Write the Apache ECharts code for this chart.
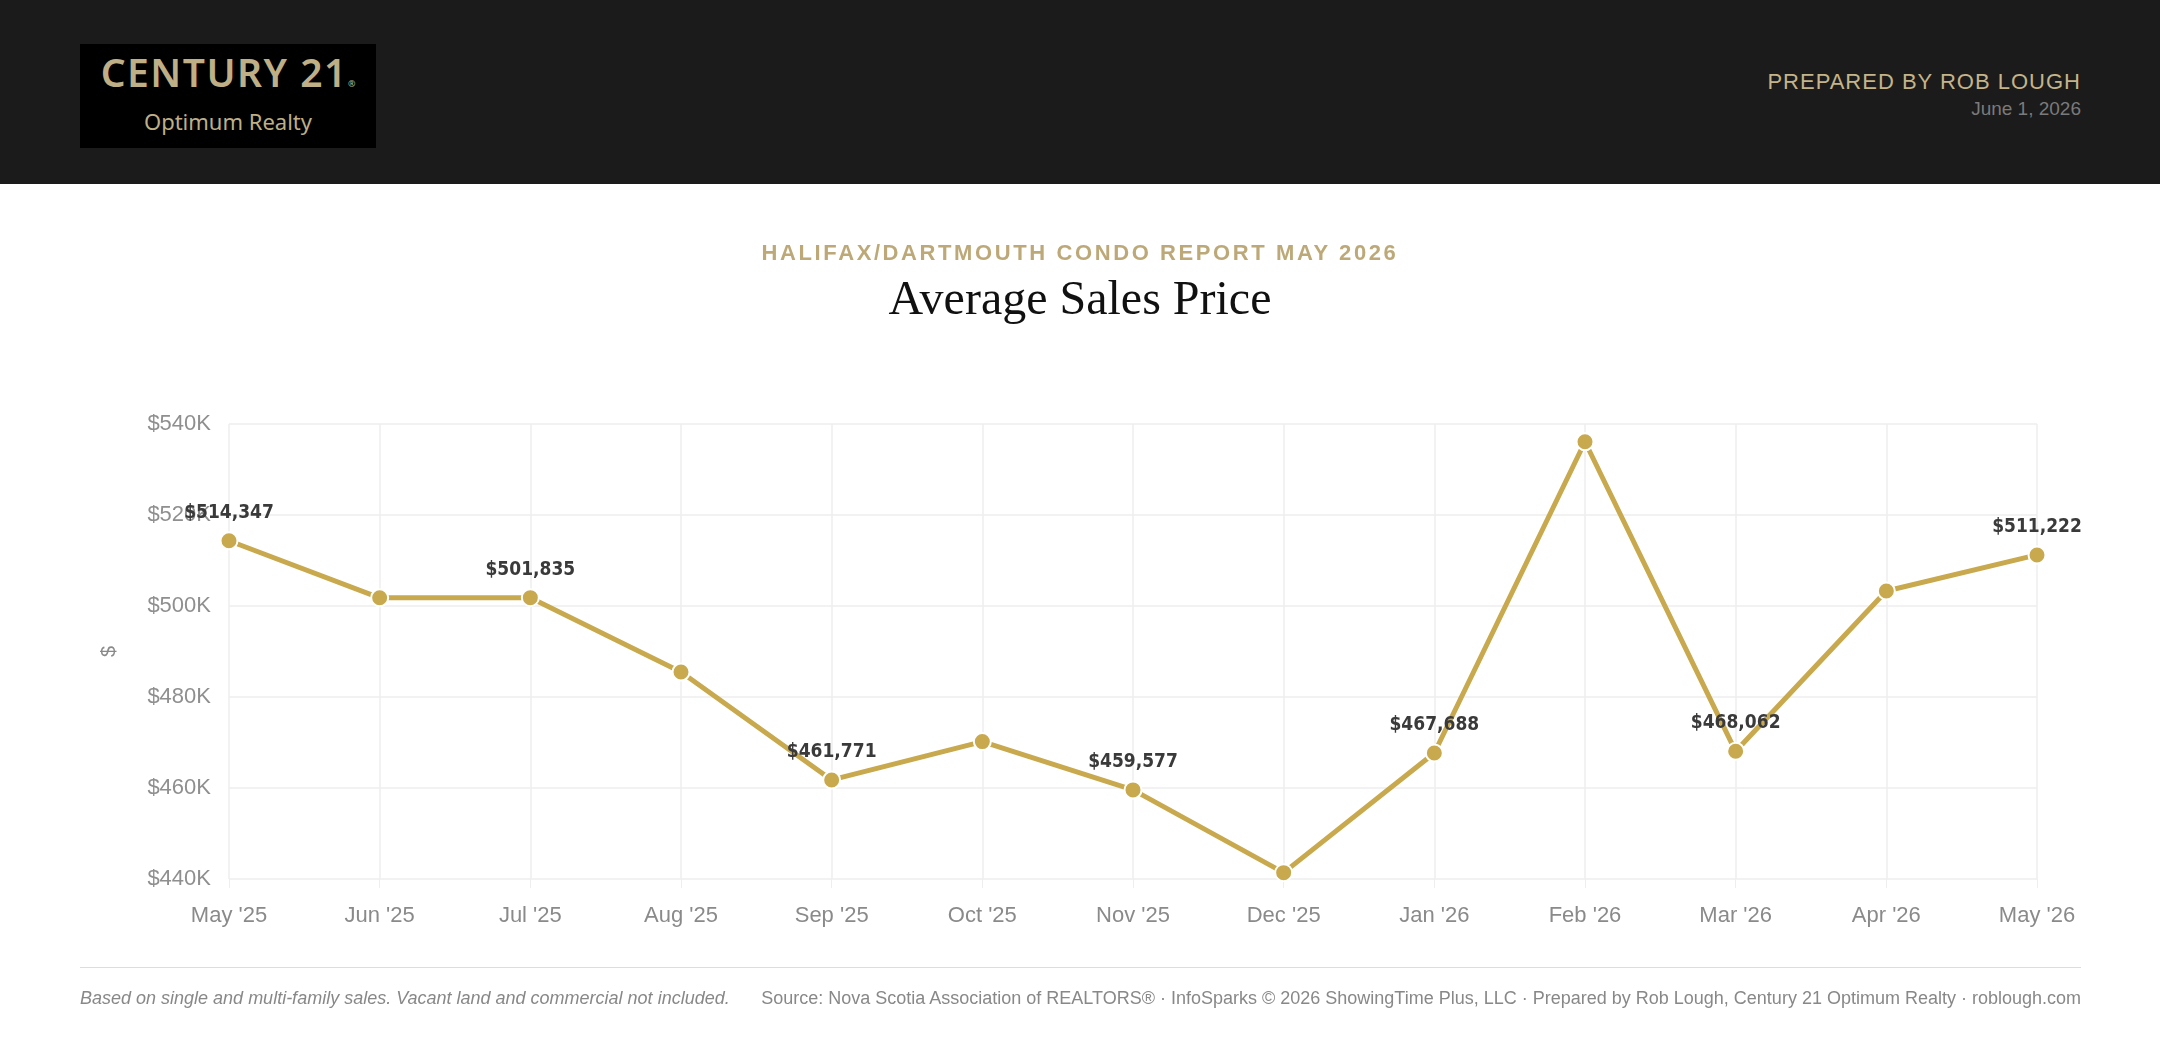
<!DOCTYPE html>
<html>
<head>
<meta charset="utf-8">
<script src="https://cdn.jsdelivr.net/npm/echarts@6/dist/echarts.min.js"></script>
<style>
  body { margin: 0; width: 2160px; height: 1048px; background: #fff; font-family: "Liberation Sans", Arial, sans-serif; overflow: hidden; position: relative; }
  #header { position: absolute; left: 0; top: 0; width: 2160px; height: 184px; background: #1b1b1b; }
  #logo { position: absolute; left: 80px; top: 44px; width: 296px; height: 104px; background: #000; color: #beaf87; text-align: center; }
  #logo .c21 { font-family: "Noto Sans", sans-serif; font-weight: 600; font-size: 39px; letter-spacing: 1.5px; margin-top: 4px; line-height: 48px; }
  #logo .c21 sup { font-size: 9px; vertical-align: 0; letter-spacing: 0; }
  #logo .opt { font-family: "Noto Sans", sans-serif; font-size: 22px; line-height: 26px; margin-top: 0px; }
  #prep { position: absolute; right: 79px; top: 69px; text-align: right; font-family: "Liberation Sans", Arial, sans-serif; }
  #prep .a { color: #c4b48a; font-size: 22px; letter-spacing: 1px; }
  #prep .b { color: #7a7a7a; font-size: 19px; margin-top: 3px; }
  #sub { position: absolute; top: 240px; width: 100%; text-align: center; color: #bda978; font-weight: 700; font-size: 22px; letter-spacing: 2.6px; }
  #ttl { position: absolute; top: 270px; width: 100%; text-align: center; color: #111; font-family: "Liberation Serif", serif; font-size: 48px; }
  #chart { position: absolute; left: 0; top: 0; width: 2160px; height: 1048px; }
  #rule { position: absolute; left: 80px; top: 967px; width: 2001px; height: 1px; background: #ddd; }
  #foot { position: absolute; left: 80px; top: 988px; width: 2001px; font-size: 18px; color: #888; }
  #foot .l { float: left; font-style: italic; }
  #foot .r { float: right; }
</style>
</head>
<body>
<div id="chart"></div>
<div id="header">
  <div id="logo"><div class="c21">CENTURY 21<sup>®</sup></div><div class="opt">Optimum Realty</div></div>
  <div id="prep"><div class="a">PREPARED BY ROB LOUGH</div><div class="b">June 1, 2026</div></div>
</div>
<div id="sub">HALIFAX/DARTMOUTH CONDO REPORT MAY 2026</div>
<div id="ttl">Average Sales Price</div>
<div id="rule"></div>
<div id="foot">
  <span class="l">Based on single and multi-family sales. Vacant land and commercial not included.</span>
  <span class="r">Source: Nova Scotia Association of REALTORS® · InfoSparks © 2026 ShowingTime Plus, LLC · Prepared by Rob Lough, Century 21 Optimum Realty · roblough.com</span>
</div>
<script>
var months = ["May '25", "Jun '25", "Jul '25", "Aug '25", "Sep '25", "Oct '25", "Nov '25", "Dec '25", "Jan '26", "Feb '26", "Mar '26", "Apr '26", "May '26"];
var avgPrice = [514347, 501800, 501835, 485500, 461771, 470200, 459577, 441400, 467688, 536100, 468062, 503300, 511222];
var labelled = [0, 2, 4, 6, 8, 10, 12];

var chart = echarts.init(document.getElementById('chart'));

chart.setOption({
  animation: false,
  grid: { left: 229, right: 123, top: 424, bottom: 169 },
  xAxis: {
    type: 'category',
    data: months,
    boundaryGap: false,
    axisLine: { show: false },
    axisTick: { show: true, length: 9, lineStyle: { color: '#eeeeee' } },
    axisLabel: { color: '#8a8a8a', fontSize: 22, margin: 26, fontFamily: 'Liberation Sans' },
    splitLine: { show: true, lineStyle: { color: '#eeeeee', width: 1.5 } }
  },
  yAxis: {
    type: 'value',
    min: 440000,
    max: 540000,
    interval: 20000,
    name: '$',
    nameLocation: 'middle',
    nameGap: 110,
    nameRotate: 90,
    nameTextStyle: { color: '#8a8a8a', fontSize: 20 },
    axisLine: { show: false },
    axisTick: { show: false },
    axisLabel: {
      color: '#8f8f8f', fontSize: 22, margin: 18, fontFamily: 'Liberation Sans',
      formatter: function (v) { return '$' + (v / 1000) + 'K'; }
    },
    splitLine: { lineStyle: { color: '#eeeeee', width: 1.5 } }
  },
  series: [{
    type: 'line',
    data: avgPrice.map(function (v, i) {
      return {
        value: v,
        label: {
          show: labelled.indexOf(i) >= 0,
          position: 'top',
          distance: 9,
          color: '#3a3a3a',
          fontSize: 19,
          fontWeight: 'bold',
          fontFamily: 'DejaVu Sans Condensed',
          formatter: function (p) { return '$' + p.value.toLocaleString('en-US'); }
        }
      };
    }),
    symbol: 'circle',
    symbolSize: 17,
    lineStyle: { color: '#c9a94e', width: 5 },
    itemStyle: { color: '#c9a94e', borderColor: '#fff', borderWidth: 2 }
  }]
});
</script>
</body>
</html>
